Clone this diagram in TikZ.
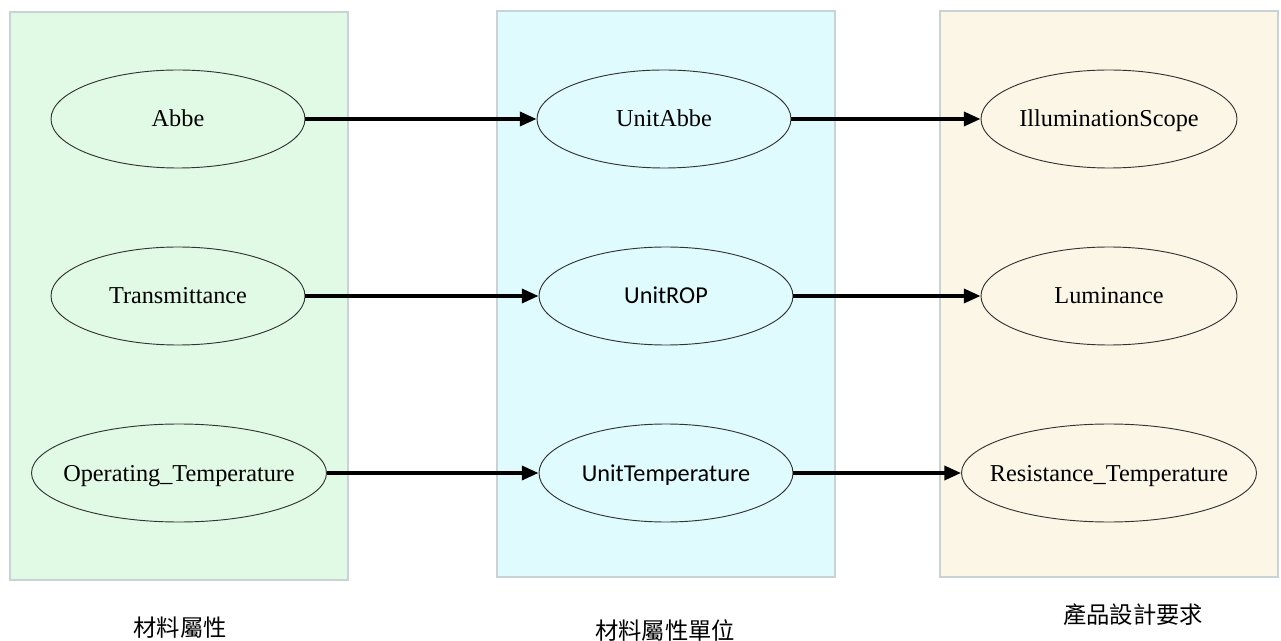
\documentclass[tikz,border=0pt]{standalone}
\usepackage{fontspec}
\setmainfont{Liberation Serif}
\newfontfamily\calib{Carlito}
\newfontfamily\cjk{Noto Sans CJK TC}
\usetikzlibrary{shapes.geometric,arrows.meta}
\definecolor{grpA}{HTML}{E1FAE5}
\definecolor{grpB}{HTML}{DFFBFD}
\definecolor{grpC}{HTML}{FCF6E6}
\definecolor{grpLine}{HTML}{C9D3D3}
\newcommand{\lbl}[1]{\makebox[0pt]{#1}}
\tikzset{
  group/.style={draw=grpLine, line width=0.8pt},
  prop/.style={ellipse, draw=black!80, line width=0.7pt, minimum width=254*0.75pt, minimum height=98*0.75pt, inner sep=0pt, text height=16pt, text depth=4pt, font=\fontsize{18.2}{20}\selectfont},
  wide/.style={prop, minimum width=295*0.75pt},
  sanslabel/.style={font=\calib\fontsize{18.2}{20}\selectfont},
  flow/.style={line width=2.6pt, -{Triangle[length=12.5pt, width=10.5pt]}},
  title/.style={font=\cjk\fontsize{17.5}{20}\selectfont, inner sep=0pt}
}
\begin{document}
\begin{tikzpicture}[x=0.75pt, y=-0.75pt]
\useasboundingbox (0,0) rectangle (1281,641);
% column backgrounds
\filldraw[group, fill=grpA] (10,12) rectangle (348,580);
\filldraw[group, fill=grpB] (497,11) rectangle (835,577);
\filldraw[group, fill=grpC] (940,11) rectangle (1278,577);
% material properties
\node[prop, fill=grpA] (abbe) at (178,119) {\lbl{Abbe}};
\node[prop, fill=grpA] (trans) at (178,296) {\lbl{Transmittance}};
\node[wide, fill=grpA] (optemp) at (179,473) {\lbl{Operating\_Temperature}};
% units
\node[prop, fill=grpB] (uabbe) at (664,119) {\lbl{UnitAbbe}};
\node[prop, fill=grpB, sanslabel] (urop) at (666,296) {\lbl{UnitROP}};
\node[prop, fill=grpB, sanslabel] (utemp) at (666,473) {\lbl{UnitTemperature}};
% design requirements
\node[prop, fill=grpC, minimum width=256*0.75pt] (illum) at (1109,119) {\lbl{IlluminationScope}};
\node[prop, fill=grpC, minimum width=256*0.75pt] (lumin) at (1109,296) {\lbl{Luminance}};
\node[wide, fill=grpC] (restemp) at (1109,473) {\lbl{Resistance\_Temperature}};
% connections
\draw[flow] (abbe) -- (uabbe);
\draw[flow] (trans) -- (urop);
\draw[flow] (optemp) -- (utemp);
\draw[flow] (uabbe) -- (illum);
\draw[flow] (urop) -- (lumin);
\draw[flow] (utemp) -- (restemp);
% column titles
\node[title] (tA) at (180,628) {材料屬性};
\node[title] (tB) at (665,631) {材料屬性單位};
\node[title] (tC) at (1133,615) {產品設計要求};
\end{tikzpicture}
\end{document}
